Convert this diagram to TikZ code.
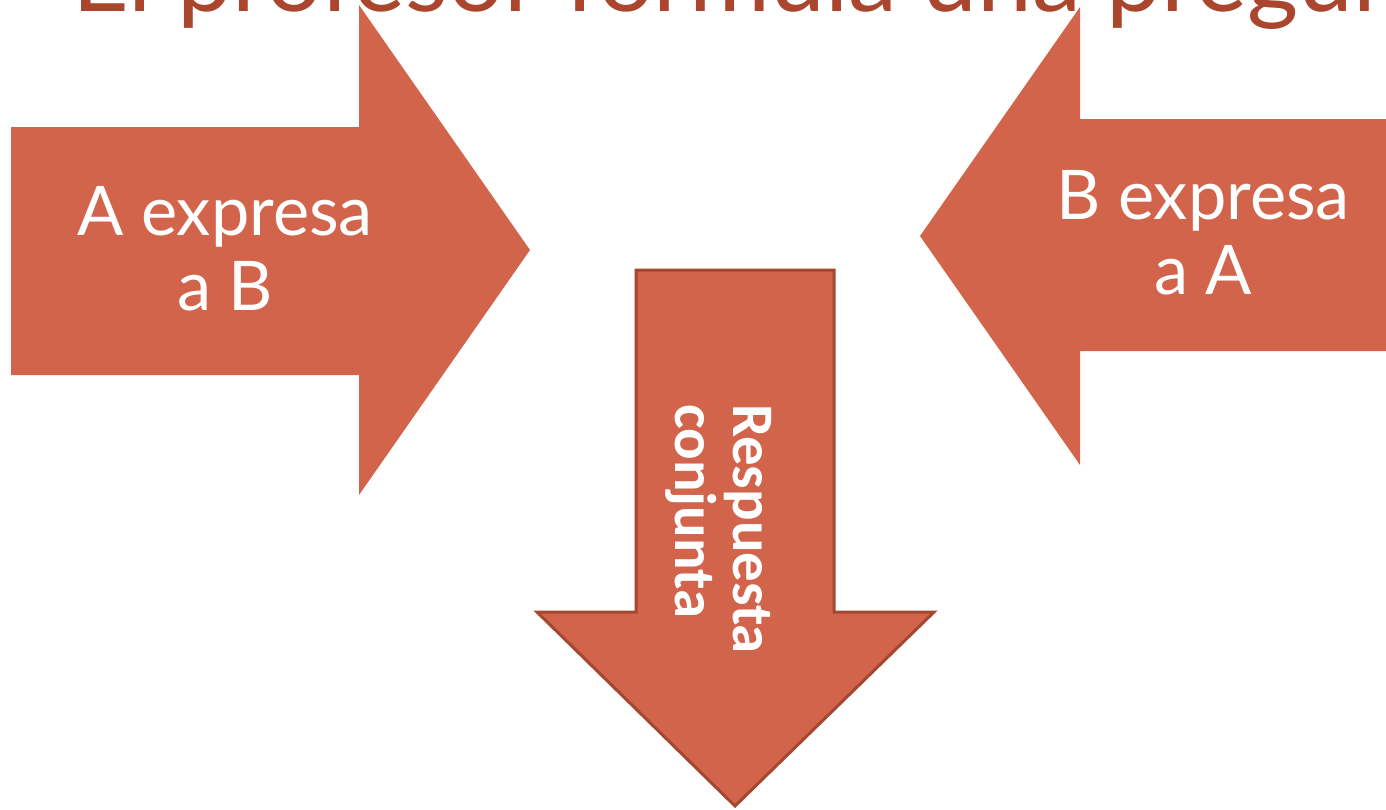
\documentclass[tikz,border=0pt]{standalone}
\usepackage{fontspec}
\setmainfont{Lato}
\newfontfamily\respfont{Carlito}
\definecolor{arrowfill}{RGB}{209,100,74}
\definecolor{arrowline}{RGB}{164,71,49}
\definecolor{titlered}{RGB}{170,69,46}
\tikzset{
  bigarrow/.style={fill=arrowfill, draw=none},
  downarrow/.style={fill=arrowfill, draw=arrowline, line width=1.7pt, line join=miter},
  arrowtext/.style={text=white, align=center, font=\fontsize{39}{42.7}\selectfont}
}
\begin{document}
\begin{tikzpicture}[x=0.02cm, y=-0.02cm]
  \useasboundingbox (0,0) rectangle (1386,809);
  \clip (0,0) rectangle (1386,809);
  \filldraw[bigarrow] (11,127) -- (359,127) -- (359,5) -- (530,250) -- (359,495) -- (359,375) -- (11,375) -- cycle;
  \filldraw[bigarrow] (1400,119) -- (1080,119) -- (1080,7) -- (920,236) -- (1080,465) -- (1080,351) -- (1400,351) -- cycle;
  \filldraw[downarrow] (636,270) -- (834,270) -- (834,612) -- (934,612) -- (735,806) -- (537,612) -- (636,612) -- cycle;
  \node[arrowtext] (atob) at (225,249) {A expresa\\a B};
  \node[arrowtext] (btoa) at (1203,233) {B expresa\\a A};
  \node[text=white, align=left, rotate=-90, font=\respfont\bfseries\fontsize{33.5}{33}\selectfont] (joint) at (719,529) {Respuesta\\conjunta};
  \node[anchor=base west, inner sep=0pt, text=titlered, font=\fontsize{56}{60}\selectfont] (title) at (72,11) {El profesor formula una pregun};
\end{tikzpicture}
\end{document}
